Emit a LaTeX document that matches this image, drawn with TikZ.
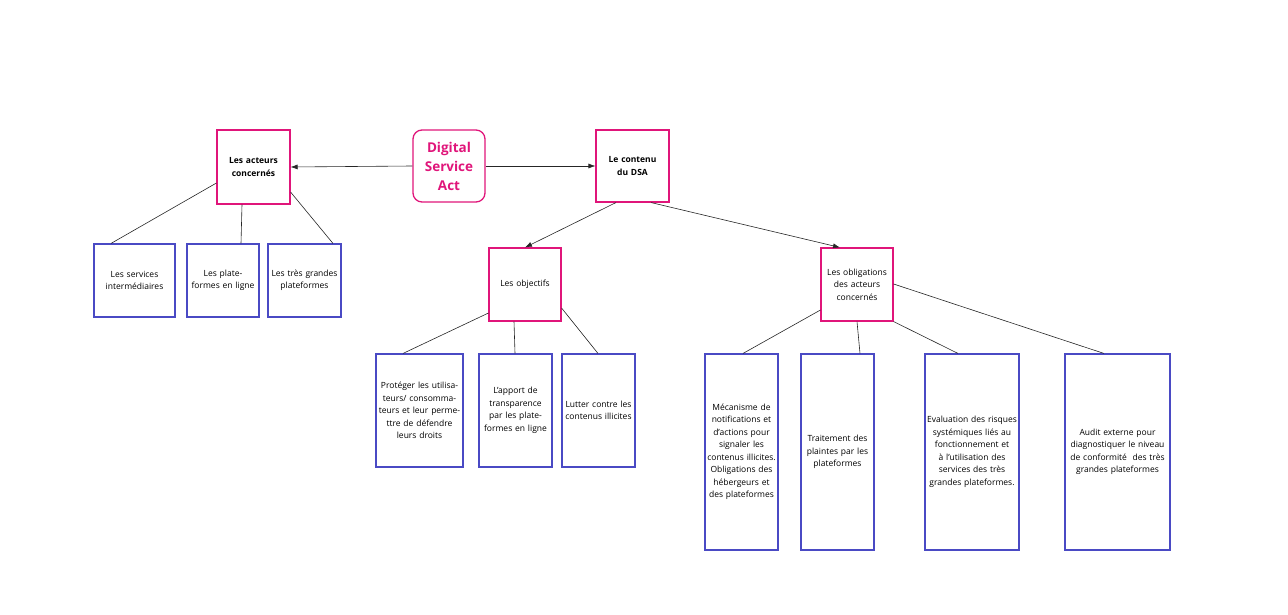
\documentclass[tikz,border=0pt]{standalone}
\usepackage{fontspec}
\setmainfont{Open Sans}
\usetikzlibrary{arrows.meta}
\definecolor{mag}{HTML}{E0157A}
\definecolor{blu}{HTML}{4A4AC4}
\begin{document}
\begin{tikzpicture}[x=1pt,y=-1pt,
 box/.style={draw,line width=1.1pt,inner sep=1pt,align=center,font=\fontsize{8.5}{12.5}\selectfont},
 mb/.style={box,draw=mag},
 bb/.style={box,draw=blu},
 ln/.style={draw=black!85,line width=0.6pt},
 ar/.style={ln,-{Latex[length=7pt,width=5pt]}}]
\useasboundingbox (0,0) rectangle (1288,615);
\newcommand{\bx}[7]{\node[#1,minimum width=#4-#2,minimum height=#5-#3,text width=#4-#2-4] (#6) at ({(#2+#4)/2},{(#3+#5)/2}) {#7};}
\node[draw=mag,line width=1.3pt,rounded corners=9pt,minimum width=72,minimum height=72,align=center,text=mag,font=\bfseries\fontsize{13.5}{19}\selectfont,inner sep=1pt] (dsa) at (449,166) {Digital\\Service\\Act};
\bx{mb,font=\bfseries\fontsize{8.5}{12.5}\selectfont}{217}{130}{290}{204}{act}{Les acteurs concernés}
\bx{mb,font=\bfseries\fontsize{8.5}{12.5}\selectfont}{596}{130}{669}{202}{cont}{Le contenu du DSA}
\bx{bb}{94}{244}{175}{317}{s1}{Les services intermédiaires}
\bx{bb}{187}{244}{259}{317}{s2}{Les plateformes en ligne}
\bx{bb}{268}{244}{341}{317}{s3}{Les très grandes plateformes}
\bx{mb}{489}{248}{561}{321}{obj}{Les objectifs}
\bx{mb}{821}{248}{893}{321}{obl}{Les obligations des acteurs concernés}
\bx{bb}{376}{354}{463}{467}{o1}{Protéger les utilisateurs/ consommateurs et leur permettre de défendre leurs droits}
\bx{bb}{479}{354}{552}{467}{o2}{L'apport de transparence par les plateformes en ligne}
\bx{bb}{562}{354}{635}{467}{o3}{Lutter contre les contenus illicites\\[5em]}
\bx{bb}{705}{354}{778}{550}{b1}{Mécanisme de notifications et d'actions pour signaler les contenus illicites. Obligations des hébergeurs et des plateformes}
\bx{bb}{801}{354}{874}{550}{b2}{Traitement des plaintes par les plateformes}
\bx{bb}{925}{354}{1019}{550}{b3}{Evaluation des risques systémiques liés au fonctionnement et à l'utilisation des services des très grandes plateformes.}
\bx{bb}{1065}{354}{1170}{550}{b4}{Audit externe pour diagnostiquer le niveau de conformité\ \ des très grandes plateformes}
\draw[ar] (dsa.west) -- (act.east);
\draw[ar] (dsa.east) -- (cont.west);
\draw[ln] (act.west|-0,183) -- (s1.north-|111,0);
\draw[ln] (act.south-|242,0) -- (s2.north-|241,0);
\draw[ln] (act.east|-0,192) -- (s3.north-|333,0);
\draw[ar] (cont.south-|616,0) -- (obj.north-|525,0);
\draw[ar] (cont.south-|651,0) -- (obl.north-|840,0);
\draw[ln] (obj.west|-0,313) -- (o1.north-|403,0);
\draw[ln] (obj.south-|514,0) -- (o2.north-|515,0);
\draw[ln] (obj.east|-0,308) -- (o3.north-|598,0);
\draw[ln] (obl.west|-0,310) -- (b1.north-|743,0);
\draw[ln] (obl.south-|857,0) -- (b2.north-|860,0);
\draw[ln] (obl.south east) -- (b3.north-|958,0);
\draw[ln] (obl.east|-0,284) -- (b4.north-|1104,0);
\end{tikzpicture}
\end{document}
